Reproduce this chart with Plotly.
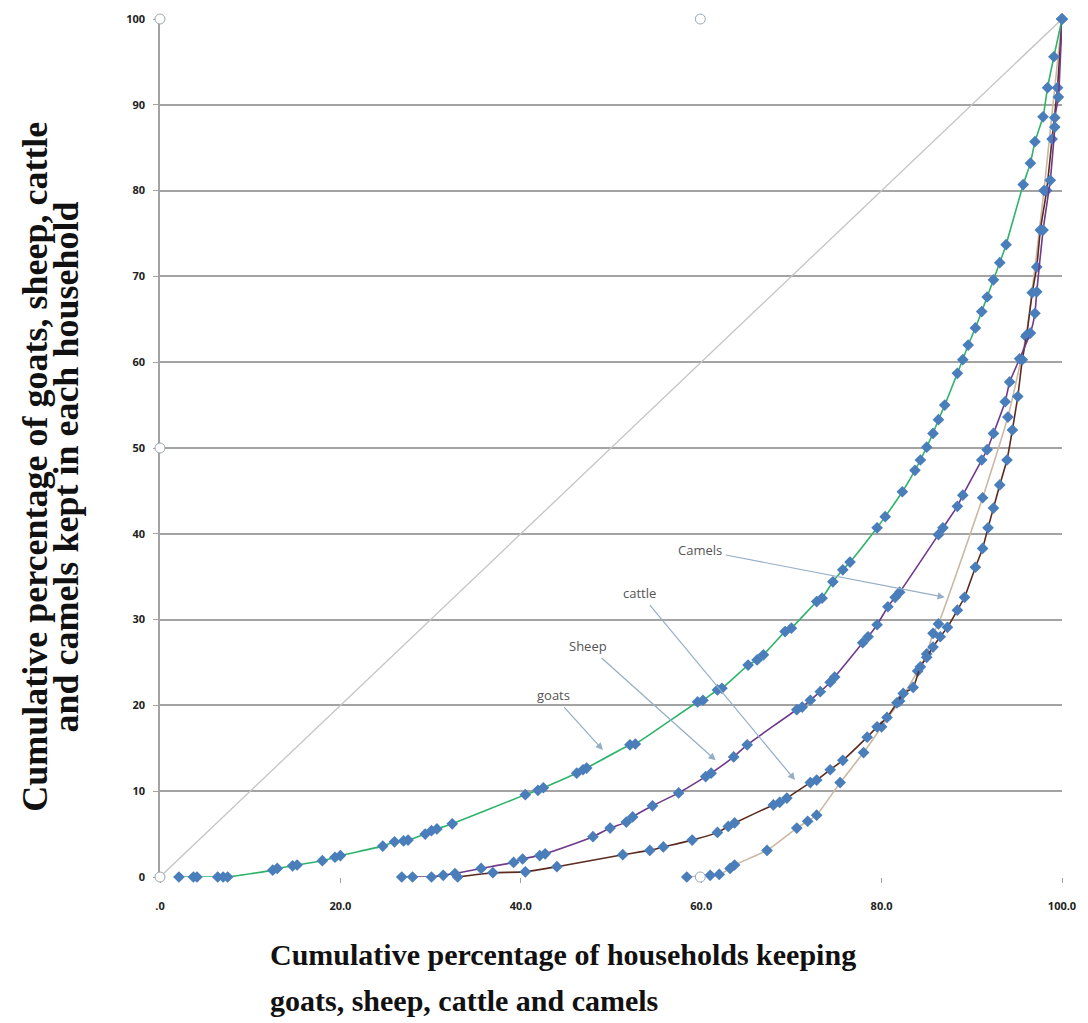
import plotly.graph_objects as go

# ---------------- data ----------------
goats_x = [2.1, 3.7, 4.1, 6.4, 7.0, 7.5, 12.5, 13.0, 14.7, 15.2, 18.0, 19.4, 20.0, 24.7, 26.0, 27.0, 27.5,
           29.4, 30.1, 30.7, 32.4, 40.5, 41.9, 42.5, 46.2, 46.9, 47.3, 52.1, 52.7, 59.6, 60.2, 61.8, 62.3,
           65.2, 66.2, 66.9, 69.3, 70.0, 72.8, 73.4, 74.6, 75.7, 76.5, 79.5, 80.4, 82.3, 83.7, 84.3, 85.0,
           85.7, 86.3, 87.0, 88.4, 89.0, 89.6, 90.4, 91.1, 91.7, 92.4, 93.1, 93.8, 95.7, 96.5, 97.0, 97.9,
           98.4, 99.1, 100.0]
goats_y = [0.0, 0.0, 0.0, 0.0, 0.0, 0.0, 0.8, 1.0, 1.3, 1.4, 1.9, 2.3, 2.5, 3.6, 4.1, 4.2, 4.3,
           5.0, 5.4, 5.6, 6.2, 9.6, 10.1, 10.4, 12.1, 12.5, 12.7, 15.4, 15.5, 20.4, 20.6, 21.8, 22.0,
           24.7, 25.3, 25.9, 28.6, 29.0, 32.1, 32.5, 34.4, 35.8, 36.7, 40.7, 42.0, 44.9, 47.4, 48.6, 50.1,
           51.7, 53.3, 55.0, 58.7, 60.3, 62.0, 64.0, 65.9, 67.6, 69.6, 71.6, 73.7, 80.7, 83.2, 85.7, 88.6,
           92.0, 95.6, 100.0]

sheep_x = [26.8, 28.0, 30.1, 31.4, 32.7, 35.6, 39.2, 40.2, 42.1, 42.7, 48.0, 49.9, 51.7, 52.4, 54.6,
           57.5, 60.5, 61.1, 63.6, 65.1, 70.6, 71.2, 72.1, 73.2, 74.3, 74.8, 77.9, 78.5, 79.5, 80.7,
           81.5, 82.0, 86.3, 86.8, 88.4, 89.0, 91.1, 91.7, 92.4, 93.7, 94.2, 95.3, 96.5, 97.0, 97.2,
           97.9, 98.7, 99.2, 99.2, 99.6, 100.0]
sheep_y = [0.0, 0.0, 0.0, 0.2, 0.4, 1.0, 1.7, 2.1, 2.5, 2.7, 4.7, 5.7, 6.4, 7.0, 8.3,
           9.8, 11.7, 12.1, 14.0, 15.4, 19.5, 19.8, 20.6, 21.6, 22.7, 23.3, 27.3, 28.0, 29.4, 31.5,
           32.6, 33.2, 39.9, 40.7, 43.2, 44.5, 48.6, 49.8, 51.7, 55.4, 57.7, 60.4, 63.4, 65.7, 68.2,
           75.4, 81.2, 87.4, 88.5, 90.9, 100.0]

cattle_x = [33.0, 36.9, 40.5, 44.0, 51.3, 54.3, 55.8, 59.0, 61.8, 63.0, 63.7, 68.0, 68.7, 69.5, 72.1,
            72.8, 74.3, 75.7, 78.4, 79.5, 80.6, 81.7, 82.4, 83.5, 84.3, 85.0, 85.7, 86.5, 87.3, 88.4,
            89.2, 90.4, 91.2, 91.8, 92.4, 93.1, 93.9, 94.5, 95.1, 95.6, 96.1, 96.7, 97.2, 97.6, 98.3,
            98.9, 99.5, 100.0]
cattle_y = [0.0, 0.5, 0.6, 1.2, 2.6, 3.1, 3.5, 4.3, 5.2, 5.9, 6.3, 8.4, 8.7, 9.2, 11.0,
            11.3, 12.5, 13.6, 16.3, 17.5, 18.6, 20.3, 21.4, 22.1, 24.5, 25.6, 26.8, 28.0, 29.1, 31.1,
            32.6, 36.1, 38.3, 40.7, 43.0, 45.7, 48.6, 52.1, 56.0, 60.3, 63.2, 68.1, 71.1, 75.4, 80.0,
            86.0, 92.0, 100.0]

camels_x = [58.4, 61.0, 62.0, 63.2, 63.7, 67.3, 70.6, 71.8, 72.8, 75.4, 78.0, 80.0, 82.0, 84.0, 85.0,
            85.7, 86.3, 91.2, 94.0, 96.0, 98.0, 100.0]
camels_y = [0.0, 0.2, 0.3, 1.0, 1.4, 3.1, 5.7, 6.5, 7.2, 11.0, 14.5, 17.5, 20.5, 24.0, 26.0,
            28.4, 29.5, 44.2, 53.6, 63.0, 80.0, 100.0]

equality_x = [0, 100]
equality_y = [0, 100]

x_tickvals = [0, 20, 40, 60, 80, 100]
x_ticktext = [".0", "20.0", "40.0", "60.0", "80.0", "100.0"]
y_tickvals = [0, 10, 20, 30, 40, 50, 60, 70, 80, 90, 100]

labels = ["goats", "Sheep", "cattle", "Camels"]
label_pos = [(43.6, 21.2), (47.5, 26.9), (53.2, 33.1), (59.9, 38.1)]
arrow_heads = [(49.1, 14.8), (61.6, 13.6), (70.4, 11.3), (87.0, 32.6)]

x_title_lines = ["Cumulative percentage of households keeping", "goats, sheep, cattle and camels"]
y_title_lines = ["Cumulative percentage of goats, sheep, cattle", "and camels kept in each household"]

# ---------------- figure ----------------
MARKER = dict(symbol="diamond", size=9, color="#4a7ebb", line=dict(width=0))
SERIF = "Liberation Serif, Times New Roman, serif"

fig = go.Figure()
fig.add_trace(go.Scatter(x=equality_x, y=equality_y, mode="lines",
                         line=dict(color="#c4c4c4", width=1.3), hoverinfo="skip", showlegend=False))

series = [
    ("Camels", camels_x, camels_y, "#c9b8a4"),
    ("Cattle", cattle_x, cattle_y, "#5a2b1e"),
    ("Sheep", sheep_x, sheep_y, "#6f3a8c"),
    ("Goats", goats_x, goats_y, "#2fb36a"),
]
for name, xs, ys, col in series:
    fig.add_trace(go.Scatter(x=xs, y=ys, mode="lines+markers", name=name,
                             line=dict(color=col, width=1.6, shape="spline", smoothing=0.4),
                             marker=MARKER, cliponaxis=False, showlegend=False))

for txt, (tx, ty), (hx, hy) in zip(labels, label_pos, arrow_heads):
    fig.add_annotation(x=hx, y=hy, ax=tx, ay=ty, xref="x", yref="y", axref="x", ayref="y",
                       text=txt, showarrow=True, arrowhead=2, arrowsize=1.2, arrowwidth=1.2,
                       arrowcolor="#94aec6", standoff=0, startstandoff=2,
                       font=dict(family="Open Sans, Noto Sans, sans-serif", size=13, color="#555555"))

# axis titles (one annotation per line to match the tight line spacing)
for txt, ypos in zip(x_title_lines, [-0.0909, -0.1434]):
    fig.add_annotation(xref="paper", yref="paper", x=0.1197, y=ypos, xanchor="left", yanchor="middle",
                       showarrow=False, text=txt,
                       font=dict(family=SERIF, size=30, color="#111111", weight="bold"))
for txt, xpos in zip(y_title_lines, [-0.1386, -0.1045]):
    fig.add_annotation(xref="paper", yref="paper", x=xpos, y=0.478, xanchor="center", yanchor="middle",
                       textangle=-90, showarrow=False, text=txt,
                       font=dict(family=SERIF, size=36, color="#111111", weight="bold"))

# chart-object selection handles seen in the picture
handle_pts = [(0.0, 1.0), (0.599, 1.0), (0.0, 0.5), (0.0, 0.0), (0.599, 0.0)]
for hx, hy in handle_pts:
    fig.add_shape(type="circle", xref="paper", yref="paper", xsizemode="pixel", ysizemode="pixel",
                  xanchor=hx, yanchor=hy, x0=-5, x1=5, y0=-5, y1=5,
                  line=dict(color="#9aa7b0", width=1), fillcolor="white", layer="above")

fig.update_layout(
    width=1088, height=1023,
    margin=dict(l=152, r=34, t=11, b=154, autoexpand=False),
    paper_bgcolor="white", plot_bgcolor="white",
    showlegend=False,
    font=dict(family="Open Sans, sans-serif", color="#222222"),
)
fig.update_xaxes(range=[0, 100], tickvals=x_tickvals, ticktext=x_ticktext, automargin=False,
                 showgrid=False, zeroline=False, showline=False,
                 ticks="outside", ticklen=5, tickcolor="#a0a0a0", ticklabelstandoff=14,
                 tickfont=dict(size=11, color="#222222", weight="bold"))
fig.update_yaxes(range=[0, 100], tickvals=y_tickvals, automargin=False,
                 showgrid=True, gridcolor="#a3a3a3", gridwidth=2, zeroline=False,
                 showline=True, linecolor="#a3a3a3", linewidth=1.5,
                 ticks="outside", ticklen=5, tickcolor="#a3a3a3", ticklabelstandoff=6,
                 tickfont=dict(size=11, color="#222222", weight="bold"))

fig.write_html("out.html")
